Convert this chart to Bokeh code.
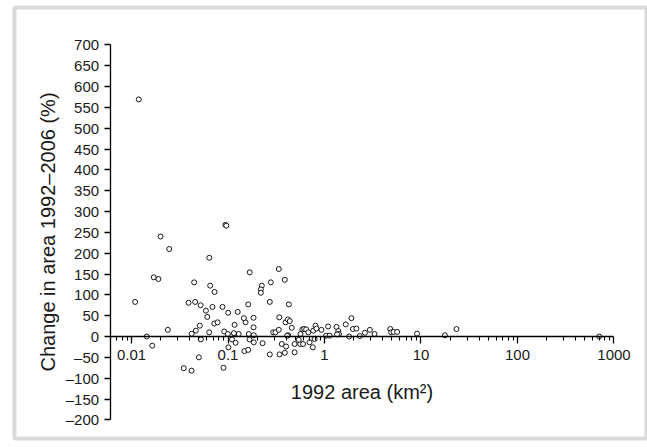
from bokeh.plotting import figure
from bokeh.models import FixedTicker, Range1d
from bokeh.embed import file_html
from bokeh.resources import INLINE

# Data (1992 area in km², change 1992–2006 in %)
area_1992 = [
    0.0119, 0.020, 0.0246, 0.064, 0.094, 0.096, 0.017, 0.019, 0.0446, 0.0654,
    0.0725, 0.0109, 0.039, 0.0457, 0.052, 0.059, 0.061, 0.069, 0.072, 0.078,
    0.0238, 0.051, 0.0464, 0.042, 0.0638, 0.0144, 0.0164, 0.0523, 0.0499, 0.0348,
    0.0419, 0.0913, 0.0898, 0.0995, 0.101, 0.110, 0.117, 0.117, 0.129, 0.120,
    0.148, 0.162, 0.152, 0.164, 0.184, 0.167, 0.185, 0.185, 0.228, 0.271,
    0.294, 0.31, 0.336, 0.342, 0.361, 0.388, 0.40, 0.42, 0.395, 0.168,
    0.336, 0.388, 0.224, 0.219, 0.219, 0.278, 0.271, 0.427, 0.162, 0.0877,
    0.1004, 0.126, 0.146, 0.184, 0.115, 0.34, 0.417, 0.437, 0.458, 0.564,
    0.59, 0.615, 0.645, 0.68, 0.764, 0.807, 0.826, 0.93, 1.09, 1.04,
    1.13, 1.33, 1.39, 1.41, 1.35, 1.66, 1.9, 1.97, 2.14, 1.8,
    2.32, 2.62, 2.95, 3.3, 4.8, 4.9, 5.19, 5.66, 9.1, 17.7,
    23.3, 703, 0.49, 0.49, 0.56, 0.60, 0.54, 0.70, 0.757, 0.79,
    0.41,
]
change_pct = [
    569, 240, 210, 189, 268, 266, 142, 138, 130, 122,
    107, 83, 81, 83, 75, 62, 47, 71, 31, 34,
    16, 26, 14, 6.5, 10, 0, -22, -7, -50, -76,
    -82, 12, -75, 6, -26, -7, 28, 6, 6, -15,
    -35, -32, 34, 6, 22, -7, 3, -14, -16, -43,
    10, 10, 16, -43, -18, -39, -24, 3, 34, 154,
    162, 136, 122, 113, 105, 130, 83, 77, 77, 71,
    57, 59, 44, 45, 8, 46, 41, 37, 21, 6,
    17, 18, 17, 10, 14, 26, 19, 16, 24, 2,
    2, 23, 13, 6, 5, 29, 44, 18, 19, 0,
    1, 9, 16, 6, 18, 10, 11, 11, 7, 3,
    18, 0, -38, -18, -18, -18, -8, -14, -26, -6,
    2,
]

x_ticks = [0.01, 0.1, 1, 10, 100, 1000]
x_tick_labels = ["0.01", "0.1", "1", "10", "100", "1000"]
x_axis_bounds = (0.006, 1000)
y_ticks = list(range(-200, 701, 50))
y_tick_labels = [("\u2013" + str(-v)) if v < 0 else str(v) for v in y_ticks]
y_axis_bounds = (-200, 700)

x_minor = [m * d for d in [0.001, 0.01, 0.1, 1, 10, 100] for m in range(2, 10)]
x_minor = [v for v in x_minor if x_axis_bounds[0] <= v <= x_axis_bounds[1]]

FONT = "Liberation Sans"
TXT = "#1a1a1a"
GRAY = "#d9d9d9"

p = figure(
    width=647, height=447,
    x_axis_type="log",
    x_range=Range1d(0.000613, 2172), y_range=Range1d(-244.8, 789.6),
    output_backend="svg", toolbar_location=None,
    min_border_left=14, min_border_top=7, min_border_right=1, min_border_bottom=9,
)
p.grid.visible = False
p.background_fill_color = "white"
p.border_fill_color = "white"
# gray frame around the panel
p.outline_line_color = GRAY
p.outline_line_width = 4

p.scatter(area_1992, change_pct, size=5, marker="circle",
          fill_color="white", line_color="black", line_width=0.9)

# x axis drawn at y = 0
xa = p.xaxis[0]
xa.fixed_location = 0
xa.bounds = x_axis_bounds
xa.ticker = FixedTicker(ticks=x_ticks, minor_ticks=x_minor)
xa.major_label_overrides = dict(zip(x_ticks, x_tick_labels))
xa.axis_label = "1992 area (km\u00b2)"
xa.major_tick_in = 0
xa.major_tick_out = 7
xa.minor_tick_in = 0
xa.minor_tick_out = 4
xa.minor_tick_line_width = 1.1
xa.major_label_standoff = 6
xa.axis_label_standoff = 18

# y axis drawn at x = 0.006
ya = p.yaxis[0]
ya.fixed_location = x_axis_bounds[0]
ya.bounds = y_axis_bounds
ya.ticker = FixedTicker(ticks=y_ticks, minor_ticks=[])
ya.major_label_overrides = dict(zip(y_ticks, y_tick_labels))
ya.axis_label = "Change in area 1992\u20132006 (%)"
ya.major_tick_in = 0
ya.major_tick_out = 6
ya.major_label_standoff = 5
ya.axis_label_standoff = 4

for ax in (xa, ya):
    ax.axis_line_color = "black"
    ax.axis_line_width = 1.3
    ax.major_tick_line_width = 1.3
    ax.major_label_text_font = FONT
    ax.major_label_text_font_size = "15px"
    ax.major_label_text_color = TXT
    ax.axis_label_text_font = FONT
    ax.axis_label_text_font_size = "20px"
    ax.axis_label_text_font_style = "normal"
    ax.axis_label_text_color = TXT

open("out.html", "w").write(file_html(p, INLINE))
